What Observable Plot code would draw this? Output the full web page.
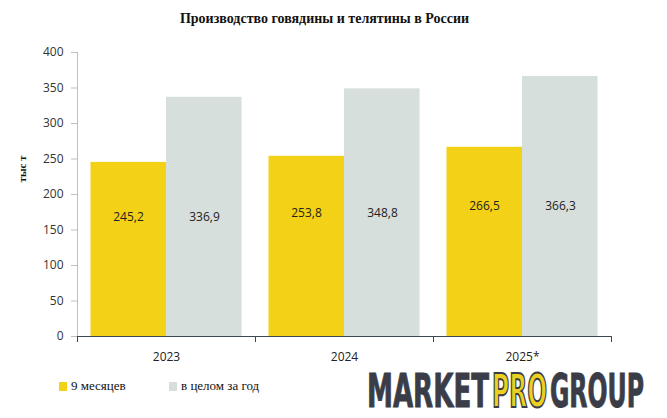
<!DOCTYPE html>
<html>
<head>
<meta charset="utf-8">
<script src="https://cdn.jsdelivr.net/npm/d3@7"></script>
<script src="https://cdn.jsdelivr.net/npm/@observablehq/plot@0.6"></script>
<style>
  body { margin: 0; background: #fff; }
  #wrap { position: relative; width: 667px; height: 418px; overflow: hidden; background: #fff; }
  #title { height: 40px; position: relative; }
  #title span { position: absolute; left: 0; width: 649px; text-align: center; top: 11px;
    font: bold 14px "Liberation Serif", "DejaVu Serif", serif; color: #111; }
  #ytitle { position: absolute; left: 22px; top: 169px; transform: translate(-50%, -50%) rotate(-90deg);
    font: bold 11px "Liberation Serif", serif; color: #111; white-space: nowrap; }
  #bottom { position: relative; height: 48px; }
  .sw { position: absolute; width: 8px; height: 9px; top: 12px; }
  .lt { position: absolute; top: 8px; font: 13px "Liberation Serif", serif; color: #111; white-space: nowrap; }
  #logo { position: absolute; left: 360px; top: -10px; }
  svg { display: block; }
</style>
</head>
<body>
<div id="wrap">
  <div id="title"><span>Производство говядины и телятины в России</span></div>
  <div id="chart"></div>
  <div id="ytitle">тыс т</div>
  <div id="bottom"></div>
</div>
<script>
const years = ["2023", "2024", "2025*"];
const nineMonths = [245.2, 253.8, 266.5];
const fullYear = [336.9, 348.8, 366.3];
const seriesNames = ["9 месяцев", "в целом за год"];
const yTicks = [0, 50, 100, 150, 200, 250, 300, 350, 400];
const logoParts = ["MARKET", "PRO", "GROUP"];

const colors = ["#f3d116", "#d6dfdc"];
const rows = years.map((y, i) => ({year: y, nine: nineMonths[i], full: fullYear[i]}));
const fmt = v => v.toFixed(1).replace(".", ",");
const numFont = '"Open Sans", "DejaVu Sans", sans-serif';

const plot = Plot.plot({
  width: 667,
  height: 330,
  marginTop: 12,
  marginBottom: 34,
  marginLeft: 77,
  marginRight: 56,
  style: {fontFamily: numFont, fontSize: "12px", color: "#333"},
  x: {type: "band", domain: years, padding: 0},
  y: {domain: [0, 400]},
  marks: [
    Plot.barY(rows, {x: "year", y: "nine", fill: colors[0], insetLeft: 13.5, insetRight: 89}),
    Plot.barY(rows, {x: "year", y: "full", fill: colors[1], insetLeft: 89, insetRight: 13.5}),
    Plot.text(rows, {x: "year", y: d => d.full / 2, text: d => fmt(d.nine), dx: -38, fontSize: 12, fill: "#222"}),
    Plot.text(rows, {x: "year", y: d => d.full / 2, text: d => fmt(d.full), dx: 38, fontSize: 12, fill: "#222"}),
    Plot.frame({anchor: "left", stroke: "#bfbfbf"}),
    Plot.axisY({ticks: yTicks, tickSize: 6, tickPadding: 8, stroke: "#bfbfbf", fill: "#333", label: null, tickFormat: d => String(d)}),
    Plot.ruleY([0], {stroke: "#3d4655"}),
    Plot.axisX({tickSize: 6, dx: -89, text: null, stroke: "#3d4655", label: null}),
    Plot.axisX({tickSize: 6, dx: 89, text: null, stroke: "#3d4655", label: null}),
    Plot.axisX({tickSize: 0, tickPadding: 16, fill: "#222", label: null})
  ]
});
document.getElementById("chart").appendChild(plot);

// legend
const bottom = document.getElementById("bottom");
const swX = [59, 169];
const txX = [71, 181];
seriesNames.forEach((name, i) => {
  const s = document.createElement("div");
  s.className = "sw"; s.style.left = swX[i] + "px"; s.style.background = colors[i];
  bottom.appendChild(s);
  const t = document.createElement("div");
  t.className = "lt"; t.style.left = txX[i] + "px"; t.textContent = name;
  bottom.appendChild(t);
});

// logo
const ns = "http://www.w3.org/2000/svg";
const logo = document.createElementNS(ns, "svg");
logo.setAttribute("id", "logo");
logo.setAttribute("width", "300");
logo.setAttribute("height", "66");
const partX = [7, 132, 190];
const partW = [122, 55, 94];
const partFS = [30, 29, 29];
const partFill = ["#3a3d47", "#ecd020", "#3a3d47"];
const partSW = ["0.6", "1.2", "0.6"];
logoParts.forEach((s, i) => {
  const k = 34 / (0.729 * partFS[i]);
  const t = document.createElementNS(ns, "text");
  t.setAttribute("x", "0");
  t.setAttribute("y", "0");
  t.setAttribute("transform", `translate(${partX[i]},47) scale(1,${k.toFixed(3)})`);
  t.setAttribute("textLength", partW[i]);
  t.setAttribute("lengthAdjust", "spacingAndGlyphs");
  t.setAttribute("font-family", '"Liberation Sans Narrow", "DejaVu Sans Condensed", "Roboto", sans-serif');
  t.setAttribute("font-weight", "bold");
  t.setAttribute("font-size", partFS[i]);
  t.setAttribute("fill", partFill[i]);
  t.setAttribute("stroke", "#3a3d47");
  t.setAttribute("stroke-width", partSW[i]);
  t.textContent = s;
  logo.appendChild(t);
});
bottom.appendChild(logo);
</script>
</body>
</html>
